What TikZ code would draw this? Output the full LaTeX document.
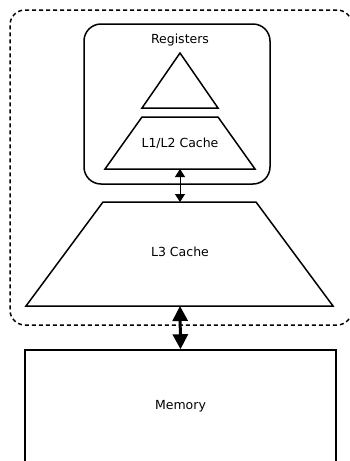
\documentclass[tikz,border=0pt]{standalone}
\usepackage{fontspec}
\setmainfont{DejaVu Sans}
\usetikzlibrary{arrows.meta}

\begin{document}
\begin{tikzpicture}[
  x=1pt, y=-1pt,
  every node/.style={font=\fontsize{12.5}{15}\selectfont, inner sep=0pt},
  box/.style={draw, line width=1.5pt, minimum width=#1},
  level/.style={draw, line width=1.5pt, line join=miter},
  link/.style={{Triangle[length=8pt, width=10pt]}-{Triangle[length=8pt, width=10pt]}, line width=1pt},
  bus/.style={{Triangle[length=15pt, width=15pt]}-{Triangle[length=15pt, width=15pt]}, line width=3pt}
]
  \clip (0,0) rectangle (350,461);

  % Chip boundary
  \node[box=342pt, dashed, dash pattern=on 4pt off 3pt, rounded corners=15pt,
    minimum height=315pt] (chip) at (181,167.5) {};

  % Core with registers and L1/L2
  \node[box=186pt, rounded corners=17pt, minimum height=160pt] (core) at (177,104) {};
  \node (reglabel) at (180,40) {Registers};
  \draw[level] (142,108) -- (180,53) -- (218,108) -- cycle;
  \draw[level] (105,169) -- (142,117) -- (218,117) -- (255,169) -- cycle;
  \node (l12) at (180,143) {L1/L2 Cache};
  \coordinate (l12-s) at (180,169);

  % Shared cache
  \draw[level] (26,306) -- (103,202) -- (256,202) -- (333,306) -- cycle;
  \node (l3) at (180,252) {L3 Cache};
  \coordinate (l3-n) at (180,202);
  \coordinate (l3-s) at (180,306);

  % Main memory
  \node[box=311pt, minimum height=112pt] (mem) at (180.5,406) {Memory};

  % Arrows
  \draw[link] (l12-s) -- (l3-n);
  \draw[bus] (l3-s) -- (mem.north);
\end{tikzpicture}
\end{document}
